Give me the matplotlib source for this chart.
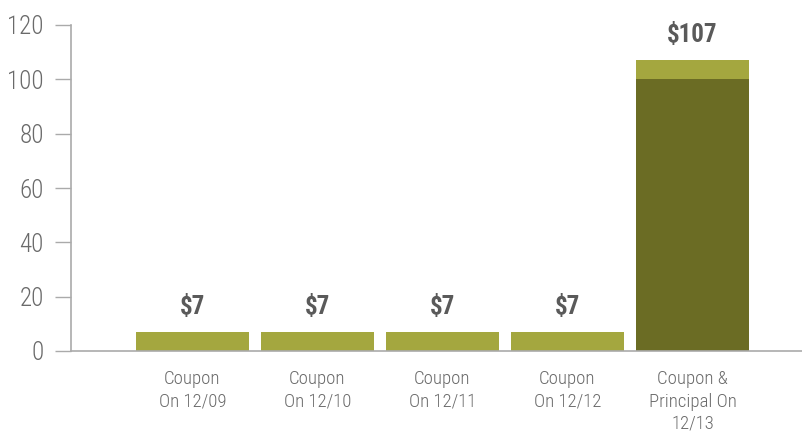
import matplotlib.pyplot as plt

# data
categories = ["Coupon\nOn 12/09", "Coupon\nOn 12/10", "Coupon\nOn 12/11",
              "Coupon\nOn 12/12", "Coupon &\nPrincipal On\n12/13"]
principal = [0, 0, 0, 0, 100]
coupon = [7, 7, 7, 7, 7]
totals = ["$7", "$7", "$7", "$7", "$107"]
yticks = [0, 20, 40, 60, 80, 100, 120]

light = "#a4a73f"
dark = "#6b6c24"
grey = "#6a6a6a"

plt.rcParams['font.family'] = ['Roboto Condensed', 'DejaVu Sans']

fig = plt.figure(figsize=(8.03, 4.34), dpi=100)
ax = fig.add_axes([71 / 803, 83 / 434, 732 / 803, 326 / 434])

x = list(range(len(categories)))
ax.bar(x, principal, width=0.904, color=dark)
ax.bar(x, coupon, bottom=principal, width=0.904, color=light)

for i in x:
    ax.annotate(totals[i], (i, principal[i] + coupon[i]), xytext=(0, 13),
                textcoords="offset points", ha="center", va="baseline",
                fontsize=18, fontweight="semibold", color="#5a5a5a")

ax.set_xlim(-0.972, 4.884)
ax.set_ylim(0, 120)
ax.set_yticks(yticks)
ax.set_xticks(x)
ax.set_xticklabels(categories, fontsize=13.5, color=grey, linespacing=1.3,
                   fontweight="light")
for lab in ax.get_yticklabels():
    lab.set_fontweight("light")
ax.tick_params(axis="y", length=11.5, width=1, color="#aaaaaa",
               labelsize=18, labelcolor=grey, pad=8)
ax.tick_params(axis="x", length=0, pad=14)

for s in ["top", "right"]:
    ax.spines[s].set_visible(False)
for s in ["left", "bottom"]:
    ax.spines[s].set_color("#aaaaaa")
    ax.spines[s].set_linewidth(1.2)

fig.savefig("out.png", dpi=100)
